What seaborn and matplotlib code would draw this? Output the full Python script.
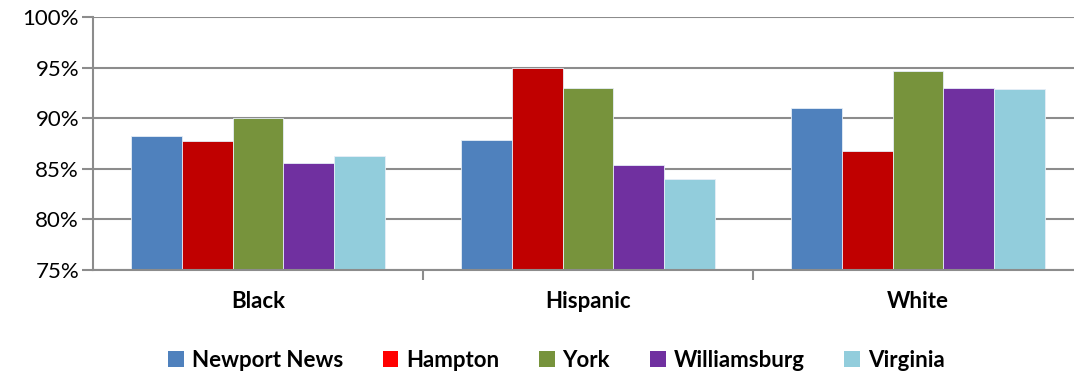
"""Grouped bar chart: share by race/ethnicity across localities vs Virginia."""
import matplotlib
matplotlib.use("Agg")
import matplotlib.pyplot as plt
from matplotlib.patches import Patch
from matplotlib.ticker import FixedLocator, PercentFormatter
import pandas as pd
import seaborn as sns

# -------- Data --------
groups = ["Black", "Hispanic", "White"]
localities = ["Newport News", "Hampton", "York", "Williamsburg", "Virginia"]
newport_news = [88.25, 87.86, 91.03]
hampton = [87.73, 94.97, 86.74]
york = [89.98, 92.95, 94.64]
williamsburg = [85.55, 85.42, 92.95]
virginia = [86.24, 83.96, 92.86]

bar_colors = ["#4F81BD", "#C00000", "#77933C", "#7030A0", "#92CDDC"]
legend_colors = ["#4F81BD", "#FF0000", "#77933C", "#7030A0", "#92CDDC"]

rows = []
for loc, vals in zip(localities, [newport_news, hampton, york, williamsburg, virginia]):
    for g, v in zip(groups, vals):
        rows.append({"group": g, "locality": loc, "value": v})
df = pd.DataFrame(rows)

# -------- Figure --------
sns.set_style("white")
plt.rcParams["font.family"] = ["Lato", "DejaVu Sans"]
plt.rcParams["text.color"] = "black"
plt.rcParams["xtick.color"] = "black"
plt.rcParams["ytick.color"] = "black"

fig = plt.figure(figsize=(10.74, 3.77), dpi=100)
# plot area runs a little past the right edge of the image, as in the source
ax = fig.add_axes([93 / 1074, 1 - 270 / 377, 990 / 1074, 253 / 377])

sns.barplot(data=df, x="group", y="value", hue="locality", order=groups,
            hue_order=localities, palette=bar_colors, saturation=1, width=0.77,
            edgecolor="#E6EEF7", linewidth=0.6, ax=ax, legend=False)

ax.set_ylim(75, 100)
ax.set_xlim(-0.5, 2.5)
ax.yaxis.set_major_locator(FixedLocator([75, 80, 85, 90, 95, 100]))
ax.yaxis.set_major_formatter(PercentFormatter(decimals=0))
ax.grid(axis="y", color="#8C8C8C", linewidth=1.5)
ax.set_axisbelow(True)

for side in ("top", "right"):
    ax.spines[side].set_visible(False)
for side in ("left", "bottom"):
    ax.spines[side].set_color("#8C8C8C")
    ax.spines[side].set_linewidth(1.5)

ax.tick_params(axis="y", length=8, width=1.5, color="#8C8C8C", labelsize=16,
               labelcolor="black", pad=2, direction="out", left=True)
ax.tick_params(axis="x", which="major", length=0, labelsize=16,
               labelcolor="black", pad=15)
ax.set_xticks([0.5, 1.5, 2.5], minor=True)
ax.tick_params(axis="x", which="minor", length=7, width=1.5, color="#8C8C8C",
               direction="out", bottom=True)
for lbl in ax.get_xticklabels():
    lbl.set_fontweight("bold")
ax.set_xlabel("")
ax.set_ylabel("")

handles = [Patch(facecolor=c, edgecolor="none", label=l)
           for c, l in zip(legend_colors, localities)]
fig.legend(handles=handles, loc="center", bbox_to_anchor=(0.518, 0.045),
           ncol=5, frameon=False, handlelength=0.7, handleheight=0.7,
           handletextpad=0.35, columnspacing=1.8,
           prop={"weight": "bold", "size": 16})

fig.savefig("out.png", dpi=100)
